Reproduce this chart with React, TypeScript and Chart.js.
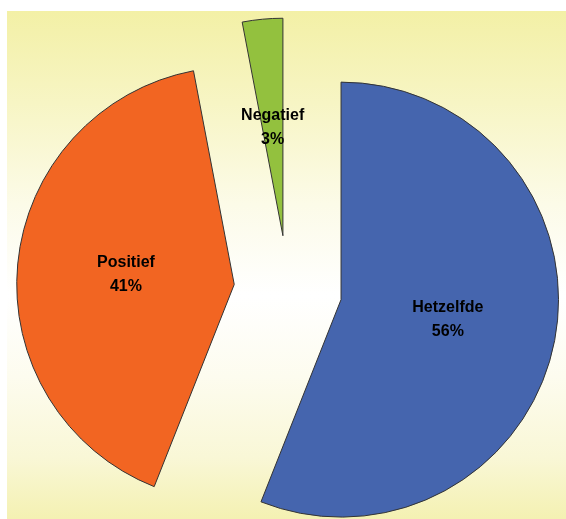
import React, { useEffect, useRef } from "react";
import { Chart, registerables } from "chart.js";

Chart.register(...registerables);

const categories = ["Hetzelfde", "Positief", "Negatief"];
const percentages = [56, 41, 3];
const sliceColors = ["#4565AE", "#F26522", "#93C13E"];

const explodePlugin = {
  id: "explode",
  afterDatasetUpdate(chart: any, args: any, opts: any) {
    const d = opts.distance || 0;
    args.meta.data.forEach((arc: any) => {
      const mid = (arc.startAngle + arc.endAngle) / 2;
      arc.x += Math.cos(mid) * d;
      arc.y += Math.sin(mid) * d;
    });
  },
};

const sliceLabelPlugin = {
  id: "sliceLabels",
  afterDatasetsDraw(chart: any) {
    const meta = chart.getDatasetMeta(0);
    const ctx = chart.ctx;
    ctx.save();
    ctx.font = 'bold 16px "Liberation Sans", Arial, sans-serif';
    ctx.fillStyle = "#000";
    ctx.textAlign = "center";
    ctx.textBaseline = "middle";
    meta.data.forEach((arc: any, i: number) => {
      const mid = (arc.startAngle + arc.endAngle) / 2;
      const r = arc.outerRadius * 0.5;
      const x = arc.x + Math.cos(mid) * r;
      const y = arc.y + Math.sin(mid) * r;
      ctx.fillText(categories[i], x, y - 12);
      ctx.fillText(percentages[i] + "%", x, y + 12);
    });
    ctx.restore();
  },
};

export default function App() {
  const ref = useRef<HTMLCanvasElement | null>(null);

  useEffect(() => {
    if (!ref.current) return;
    const chart = new Chart(ref.current, {
      type: "pie",
      data: {
        labels: categories,
        datasets: [
          {
            data: percentages,
            backgroundColor: sliceColors,
            borderColor: "#333333",
            borderWidth: 1,
          },
        ],
      },
      options: {
        responsive: false,
        animation: false,
        radius: 217.5,
        layout: { padding: { left: 3, right: 0, top: 49, bottom: 0 } },
        plugins: {
          legend: { display: false },
          tooltip: { enabled: false },
          explode: { distance: 54 },
        } as any,
      } as any,
      plugins: [explodePlugin, sliceLabelPlugin],
    });
    return () => chart.destroy();
  }, []);

  return (
    <div
      style={{
        position: "absolute",
        left: 7,
        top: 11,
        width: 559,
        height: 508,
        background:
          "linear-gradient(to bottom, #f3f0a6 0%, #f7f5c4 18%, #fcfbe8 38%, #ffffff 56%, #fdfcef 72%, #f9f7d6 88%, #f4f1b2 100%)",
      }}
    >
      <canvas ref={ref} width={559} height={508} style={{ display: "block", width: 559, height: 508 }} />
    </div>
  );
}
